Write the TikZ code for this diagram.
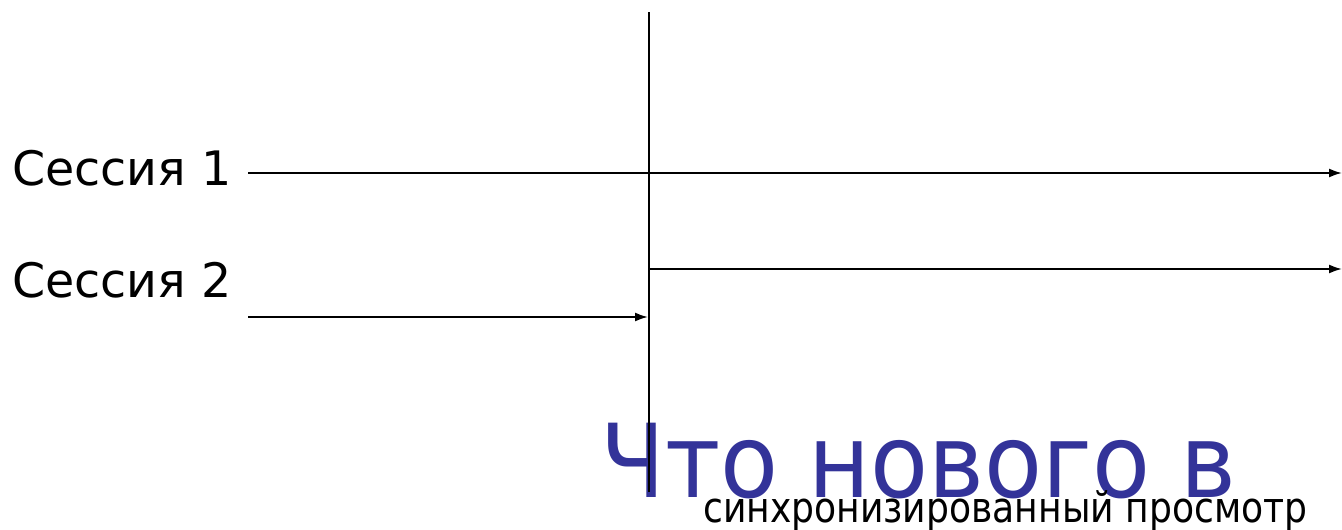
\documentclass[tikz,border=0pt]{standalone}
\usepackage{fontspec}
\setmainfont{DejaVu Sans}
\newfontfamily\titlefont[FakeStretch=0.93]{DejaVu Sans}
\newfontfamily\subfont[FakeStretch=0.86]{DejaVu Sans}
\usepackage{xcolor}
\usetikzlibrary{arrows.meta,positioning}
\definecolor{titleblue}{HTML}{333399}

\begin{document}
\begin{tikzpicture}[
  x=1pt, y=-1pt,
  label/.style={anchor=base west, inner sep=0pt, font=\fontsize{47.5}{56}\selectfont},
  line/.style={line width=1.9pt},
  arr/.style={line, -{Latex[length=13pt, width=9pt]}},
  headline/.style={anchor=base west, inner sep=0pt, text=titleblue, font=\titlefont\fontsize{102}{112}\selectfont},
  subline/.style={anchor=base west, inner sep=0pt, font=\subfont\fontsize{42}{50}\selectfont}
]
\useasboundingbox (0,0) rectangle (1342,530);

\node[label] (sess1) at (12,185) {Сессия 1};
\node[label] (sess2) at (12,297) {Сессия 2};

\node[headline] (title) at (600,497) {Что нового в};
\node[subline] (subtitle) at (703,522) {синхронизированный просмотр};

\coordinate (top) at (649,12);
\coordinate (bottom) at (649,492);
\coordinate (s1start) at (248,173);
\coordinate (s1end) at (1342,173);
\coordinate (s2start) at (248,317);
\coordinate (s2end) at (648,317);
\coordinate (joinstart) at (649,269);
\coordinate (joinend) at (1342,269);

\draw[line] (top) -- (bottom);
\draw[arr] (s1start) -- (s1end);
\draw[arr] (s2start) -- (s2end);
\draw[arr] (joinstart) -- (joinend);
\end{tikzpicture}
\end{document}
